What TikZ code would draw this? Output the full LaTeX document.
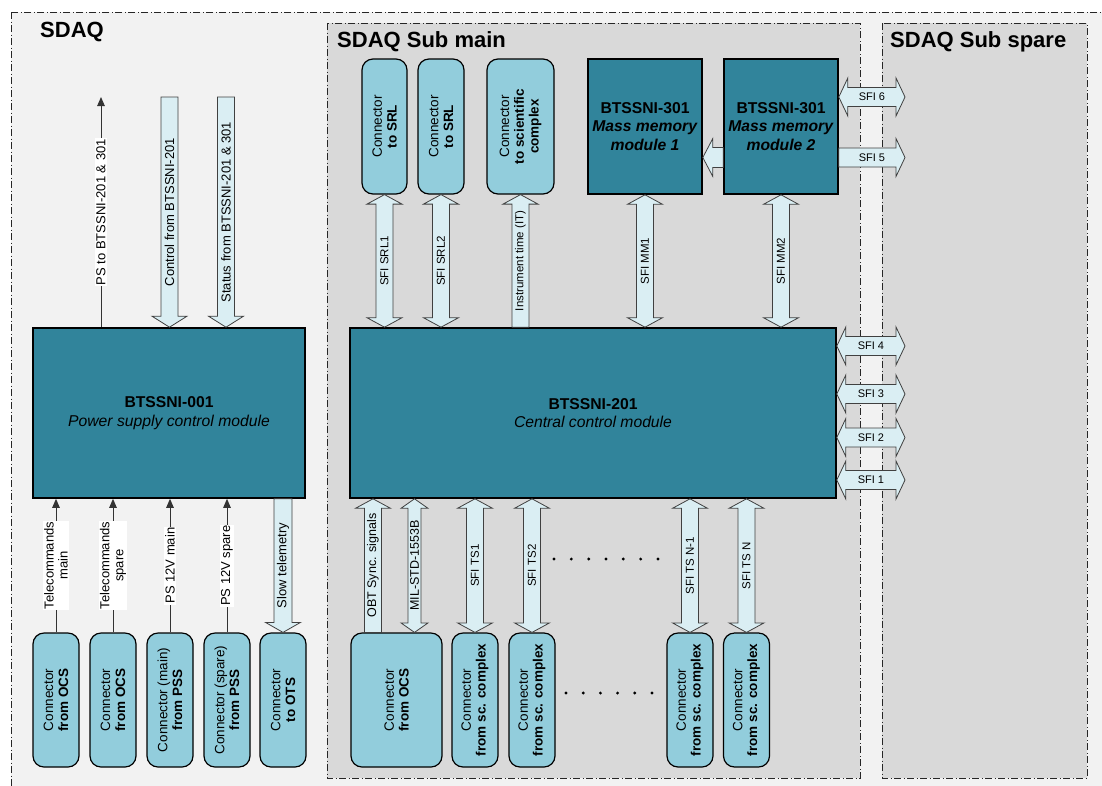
\documentclass[tikz,border=0pt]{standalone}
\usepackage{fontspec}
\setmainfont{Liberation Sans}
\usetikzlibrary{calc,arrows.meta}
\definecolor{tealmod}{HTML}{31849B}
\definecolor{connfill}{HTML}{92CDDC}
\definecolor{arfill}{HTML}{DAEEF3}
\definecolor{bgout}{HTML}{F2F2F2}
\definecolor{bgsub}{HTML}{D9D9D9}
% block arrow sizes
\def\arVS{8.5pt}\def\arVH{17.5pt}\def\arVL{9.5pt}
\def\arHS{9.5pt}\def\arHH{19pt}\def\arHL{9pt}
\tikzset{
  frame/.style={draw=black!85, line width=0.9pt, dash pattern=on 7pt off 2.5pt on 1pt off 2.5pt},
  module/.style={draw=black, line width=1.6pt, fill=tealmod, align=center, inner sep=0pt,
    font=\fontsize{15.7}{18.5}\selectfont},
  connbox/.style={draw=black, line width=1.2pt, fill=connfill, rounded corners=11pt, inner sep=0pt},
  ctext/.style={rotate=90, align=center, inner sep=0pt, font=\fontsize{13.5}{14.8}\selectfont},
  barrow/.style={draw=black!75, line width=0.8pt, fill=arfill, line join=miter},
  vlab/.style={rotate=90, inner sep=0pt, font=\fontsize{11.5}{13}\selectfont},
  vlabM/.style={rotate=90, inner sep=0pt, font=\fontsize{12.5}{14}\selectfont},
  vlabL/.style={rotate=90, inner sep=0pt, font=\fontsize{13}{14}\selectfont},
  hlab/.style={inner sep=0pt, font=\fontsize{11}{13}\selectfont},
  thinarrow/.style={draw=black!80, line width=1pt, -{Triangle[length=9pt,width=7.5pt]}},
  wlab/.style={rotate=90, fill=white, inner sep=1pt, align=center, font=\fontsize{13}{14}\selectfont},
  titletext/.style={font=\bfseries\fontsize{22}{24}\selectfont, anchor=base west, inner sep=0pt},
  dotmark/.style={fill=black},
}
% vertical double block arrow: top point, bottom point
\newcommand{\VD}[4][vlab]{%
  \draw[barrow] let \p1=#2, \p2=#3 in
  (\x1,\y1) -- (\x1+\arVH,\y1-\arVL) -- (\x1+\arVS,\y1-\arVL) -- (\x1+\arVS,\y2+\arVL)
  -- (\x1+\arVH,\y2+\arVL) -- (\x1,\y2) -- (\x1-\arVH,\y2+\arVL) -- (\x1-\arVS,\y2+\arVL)
  -- (\x1-\arVS,\y1-\arVL) -- (\x1-\arVH,\y1-\arVL) -- cycle
  node[#1] at (\x1,{(\y1+\y2)/2}) {#4};}
% vertical block arrow, head at top
\newcommand{\VU}[4][vlab]{%
  \draw[barrow] let \p1=#2, \p2=#3 in
  (\x1,\y1) -- (\x1+\arVH,\y1-\arVL) -- (\x1+\arVS,\y1-\arVL) -- (\x1+\arVS,\y2)
  -- (\x1-\arVS,\y2) -- (\x1-\arVS,\y1-\arVL) -- (\x1-\arVH,\y1-\arVL) -- cycle
  node[#1] at (\x1,{(\y1+\y2)/2}) {#4};}
% vertical block arrow, head at bottom
\newcommand{\VB}[4][vlab]{%
  \draw[barrow] let \p1=#2, \p2=#3 in
  (\x1-\arVS,\y1) -- (\x1+\arVS,\y1) -- (\x1+\arVS,\y2+\arVL) -- (\x1+\arVH,\y2+\arVL)
  -- (\x1,\y2) -- (\x1-\arVH,\y2+\arVL) -- (\x1-\arVS,\y2+\arVL) -- cycle
  node[#1] at (\x1,{(\y1+\y2)/2}) {#4};}
% horizontal double block arrow: left point, right point
\newcommand{\HD}[3]{%
  \draw[barrow] let \p1=#1, \p2=#2 in
  (\x1,\y1) -- (\x1+\arHL,\y1+\arHH) -- (\x1+\arHL,\y1+\arHS) -- (\x2-\arHL,\y1+\arHS)
  -- (\x2-\arHL,\y1+\arHH) -- (\x2,\y1) -- (\x2-\arHL,\y1-\arHH) -- (\x2-\arHL,\y1-\arHS)
  -- (\x1+\arHL,\y1-\arHS) -- (\x1+\arHL,\y1-\arHH) -- cycle
  node[hlab] at ({(\x1+\x2)/2},\y1) {#3};}
% horizontal block arrow, head at right
\newcommand{\HR}[3]{%
  \draw[barrow] let \p1=#1, \p2=#2 in
  (\x1,\y1+\arHS) -- (\x2-\arHL,\y1+\arHS) -- (\x2-\arHL,\y1+\arHH) -- (\x2,\y1)
  -- (\x2-\arHL,\y1-\arHH) -- (\x2-\arHL,\y1-\arHS) -- (\x1,\y1-\arHS) -- cycle
  node[hlab] at ({(\x1+\x2)/2},\y1) {#3};}
% horizontal block arrow, head at left
\newcommand{\HLf}[2]{%
  \draw[barrow] let \p1=#1, \p2=#2 in
  (\x1,\y1) -- (\x1+\arHL+1pt,\y1+\arHH) -- (\x1+\arHL+1pt,\y1+\arHS+0.5pt) -- (\x2,\y1+\arHS+0.5pt)
  -- (\x2,\y1-\arHS-0.5pt) -- (\x1+\arHL+1pt,\y1-\arHS-0.5pt) -- (\x1+\arHL+1pt,\y1-\arHH) -- cycle;}

\begin{document}
\begin{tikzpicture}[x=1pt,y=-1pt]
\useasboundingbox (0,0) rectangle (1102,785);
\clip (0,0) rectangle (1102,785);
\fill[white] (0,0) rectangle (1102,785);

% frames
\draw[frame, fill=bgout] (11,12) rectangle (1110,795);
\draw[frame, fill=bgsub] (327,23) rectangle (860,778);
\draw[frame, fill=bgsub] (882,23) rectangle (1087,778);
\node[titletext] (tsdaq) at (40,37) {SDAQ};
\node[titletext] (tmain) at (337,47) {SDAQ Sub main};
\node[titletext] (tspare) at (890,47) {SDAQ Sub spare};

% modules
\node[module, minimum width=272pt, minimum height=170pt] (power) at (169,413)
  {\textbf{BTSSNI-001}\\\textit{Power supply control module}};
\node[module, minimum width=486pt, minimum height=170pt] (central) at (593,413)
  {\textbf{BTSSNI-201}\\\textit{Central control module}};
\node[module, minimum width=114pt, minimum height=135pt] (mm1) at (645,126.5)
  {\textbf{BTSSNI-301}\\\textbf{\textit{Mass memory}}\\\textbf{\textit{module 1}}};
\node[module, minimum width=114pt, minimum height=135pt] (mm2) at (781,126.5)
  {\textbf{BTSSNI-301}\\\textbf{\textit{Mass memory}}\\\textbf{\textit{module 2}}};

% top connectors
\node[connbox, minimum width=45pt, minimum height=135pt] (srl1) at (384.5,126.5) {};
\node[ctext] at (srl1) {Connector\\\textbf{to SRL}};
\node[connbox, minimum width=46pt, minimum height=135pt] (srl2) at (441,126.5) {};
\node[ctext] at (srl2) {Connector\\\textbf{to SRL}};
\node[connbox, minimum width=67pt, minimum height=135pt] (sci) at (520.5,126.5) {};
\node[ctext] at (sci) {Connector\\\textbf{to scientific}\\\textbf{complex}};

% bottom-left connectors
\node[connbox, minimum width=46pt, minimum height=134pt] (c1) at (56,700) {};
\node[ctext] at (c1) {Connector\\\textbf{from OCS}};
\node[connbox, minimum width=46pt, minimum height=134pt] (c2) at (113,700) {};
\node[ctext] at (c2) {Connector\\\textbf{from OCS}};
\node[connbox, minimum width=46pt, minimum height=134pt] (c3) at (170,700) {};
\node[ctext] at (c3) {Connector (main)\\\textbf{from PSS}};
\node[connbox, minimum width=46pt, minimum height=134pt] (c4) at (227,700) {};
\node[ctext] at (c4) {Connector (spare)\\\textbf{from PSS}};
\node[connbox, minimum width=46pt, minimum height=134pt] (c5) at (283,700) {};
\node[ctext] at (c5) {Connector\\\textbf{to OTS}};

% bottom-middle connectors
\node[connbox, minimum width=91pt, minimum height=134pt] (ocs) at (396.5,700) {};
\node[ctext] at (ocs) {Connector\\\textbf{from OCS}};
\node[connbox, minimum width=46pt, minimum height=134pt] (ts1) at (475,700) {};
\node[ctext] at (ts1) {Connector\\\textbf{from sc. complex}};
\node[connbox, minimum width=46pt, minimum height=134pt] (ts2) at (532,700) {};
\node[ctext] at (ts2) {Connector\\\textbf{from sc. complex}};
\node[connbox, minimum width=46pt, minimum height=134pt] (tsn1) at (690,700) {};
\node[ctext] at (tsn1) {Connector\\\textbf{from sc. complex}};
\node[connbox, minimum width=46pt, minimum height=134pt] (tsn) at (746.5,700) {};
\node[ctext] at (tsn) {Connector\\\textbf{from sc. complex}};

% top arrows of Sub main
\VD{(srl1.south)}{(srl1.south |- central.north)}{SFI SRL1}
\VD{(srl2.south)}{(srl2.south |- central.north)}{SFI SRL2}
\VU{(sci.south)}{(sci.south |- central.north)}{Instrument time (IT)}
\VD{(mm1.south)}{(mm1.south |- central.north)}{SFI MM1}
\VD{(mm2.south)}{(mm2.south |- central.north)}{SFI MM2}
\HLf{($(mm1.east)+(0,31)$)}{($(mm2.west)+(0,31)$)}

% right SFI arrows
\coordinate (s6) at (905,97);
\coordinate (s5) at (905,157.5);
\coordinate (s4) at (905,346);
\coordinate (s3) at (905,394);
\coordinate (s2) at (905,437.5);
\coordinate (s1) at (905,480);
\HD{(mm2.east |- s6)}{(s6)}{SFI 6}
\HR{(mm2.east |- s5)}{(s5)}{SFI 5}
\HD{(central.east |- s4)}{(s4)}{SFI 4}
\HD{(central.east |- s3)}{(s3)}{SFI 3}
\HD{(central.east |- s2)}{(s2)}{SFI 2}
\HD{(central.east |- s1)}{(s1)}{SFI 1}

% bottom arrows of Sub main
\coordinate (obt) at ($(ocs.north)+(-23.5,0)$);
\coordinate (mil) at ($(ocs.north)+(18,0)$);
\VU[vlabM]{(obt |- central.south)}{(obt)}{OBT Sync. signals}
{\def\arVS{6.5pt}\def\arVH{13.5pt}%
\VD[vlabM]{(mil |- central.south)}{(mil)}{MIL-STD-1553B}}
\VD{(ts1.north |- central.south)}{(ts1.north)}{SFI TS1}
\VD{(ts2.north |- central.south)}{(ts2.north)}{SFI TS2}
\VD{(tsn1.north |- central.south)}{(tsn1.north)}{SFI TS N-1}
\VD{(tsn.north |- central.south)}{(tsn.north)}{SFI TS N}

% dots
\foreach \i in {0,...,6} \fill[dotmark] ({554+\i*17.33},559) circle (1.6);
\foreach \i in {0,...,5} \fill[dotmark] ({566+\i*17.2},693) circle (1.6);

% power module: top
\coordinate (psTop) at (101,97);
\coordinate (ctlTop) at (169.5,97);
\coordinate (stTop) at (226,97);
\draw[thinarrow] (psTop |- power.north) -- (psTop)
  node[midway, wlab] {PS to BTSSNI-201 \& 301};
{\def\arVL{11pt}%
\VB[vlabL]{(ctlTop)}{(ctlTop |- power.north)}{Control from BTSSNI-201}
\VB[vlabL]{(stTop)}{(stTop |- power.north)}{Status from BTSSNI-201 \& 301}}

% power module: bottom
\draw[thinarrow] (c1.north) -- (c1.north |- power.south) node[midway, wlab] {Telecommands\\main};
\draw[thinarrow] (c2.north) -- (c2.north |- power.south) node[midway, wlab] {Telecommands\\spare};
\draw[thinarrow] (c3.north) -- (c3.north |- power.south) node[midway, wlab] {PS 12V main};
\draw[thinarrow] (c4.north) -- (c4.north |- power.south) node[midway, wlab] {PS 12V spare};
{\def\arVS{9pt}\def\arVL{10pt}%
\VB[vlabL]{(c5.north |- power.south)}{(c5.north)}{Slow telemetry}}
\end{tikzpicture}
\end{document}
